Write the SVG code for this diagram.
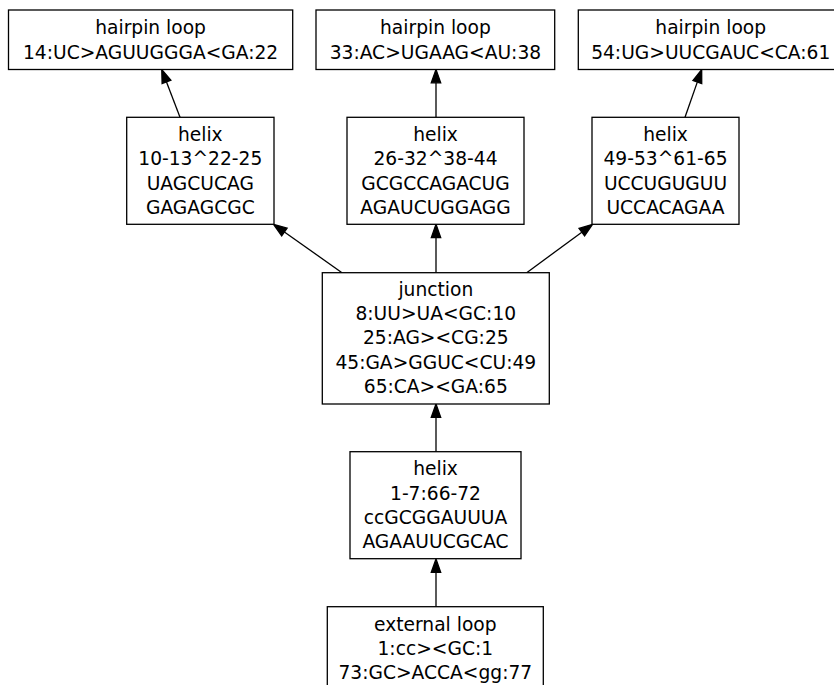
<svg xmlns="http://www.w3.org/2000/svg" width="834" height="685" viewBox="0 0 834 685">
<style>
rect.n{fill:#fff;stroke:#000;stroke-width:1.3}
text{font-family:"DejaVu Sans","Liberation Sans",sans-serif;font-size:18.67px;text-anchor:middle;fill:#000}
line.e{stroke:#000;stroke-width:1.3;marker-end:url(#ah)}
</style>
<defs>
<marker id="ah" markerUnits="userSpaceOnUse" markerWidth="14" markerHeight="10" refX="0" refY="0" orient="auto" overflow="visible">
<path d="M0,-4.7 L13.3,0 L0,4.7 Z" fill="#000" stroke="#000" stroke-width="1.3"/>
</marker>
</defs>
<rect width="834" height="685" fill="#fff"/>
<g id="edges">
<line class="e" x1="436" y1="606.7" x2="436" y2="572.3"/>
<line class="e" x1="436" y1="451.7" x2="436" y2="417.3"/>
<line class="e" x1="436" y1="272.7" x2="436" y2="237.6"/>
<line class="e" x1="342" y1="272.7" x2="284.4" y2="232"/>
<line class="e" x1="526.7" y1="272.7" x2="581.8" y2="232.2"/>
<line class="e" x1="180" y1="117.3" x2="166.5" y2="81.9"/>
<line class="e" x1="436" y1="117.3" x2="436" y2="82.8"/>
<line class="e" x1="685" y1="117.3" x2="697.3" y2="82.1"/>
</g>
<g id="hairpin1">
<rect class="n" x="8.5" y="10" width="284.2" height="59.5"/>
<text x="150.6" y="34.4">hairpin loop</text>
<text x="150.6" y="58.7">14:UC&gt;AGUUGGGA&lt;GA:22</text>
</g>
<g id="hairpin2">
<rect class="n" x="316" y="10" width="238.7" height="59.5"/>
<text x="435.4" y="34.4">hairpin loop</text>
<text x="435.4" y="58.7">33:AC&gt;UGAAG&lt;AU:38</text>
</g>
<g id="hairpin3">
<rect class="n" x="578.3" y="10" width="264.7" height="59.5"/>
<text x="710.7" y="34.4">hairpin loop</text>
<text x="710.7" y="58.7">54:UG&gt;UUCGAUC&lt;CA:61</text>
</g>
<g id="helix1">
<rect class="n" x="126.7" y="117.3" width="147.3" height="107"/>
<text x="200.3" y="141.1">helix</text>
<text x="200.3" y="165.4">10-13^22-25</text>
<text x="200.3" y="189.7">UAGCUCAG</text>
<text x="200.3" y="214">GAGAGCGC</text>
</g>
<g id="helix2">
<rect class="n" x="347" y="117.3" width="177" height="107"/>
<text x="435.5" y="141.1">helix</text>
<text x="435.5" y="165.4">26-32^38-44</text>
<text x="435.5" y="189.7">GCGCCAGACUG</text>
<text x="435.5" y="214">AGAUCUGGAGG</text>
</g>
<g id="helix3">
<rect class="n" x="592" y="117.3" width="147" height="107"/>
<text x="665.5" y="141.1">helix</text>
<text x="665.5" y="165.4">49-53^61-65</text>
<text x="665.5" y="189.7">UCCUGUGUU</text>
<text x="665.5" y="214">UCCACAGAA</text>
</g>
<g id="junction">
<rect class="n" x="322.3" y="272.7" width="227" height="131.3"/>
<text x="435.8" y="295.8">junction</text>
<text x="435.8" y="320.1">8:UU&gt;UA&lt;GC:10</text>
<text x="435.8" y="344.4">25:AG&gt;&lt;CG:25</text>
<text x="435.8" y="368.7">45:GA&gt;GGUC&lt;CU:49</text>
<text x="435.8" y="393">65:CA&gt;&lt;GA:65</text>
</g>
<g id="helix4">
<rect class="n" x="350" y="451.7" width="171" height="107"/>
<text x="435.5" y="475.2">helix</text>
<text x="435.5" y="499.5">1-7:66-72</text>
<text x="435.5" y="523.8">ccGCGGAUUUA</text>
<text x="435.5" y="548.1">AGAAUUCGCAC</text>
</g>
<g id="external">
<rect class="n" x="327.3" y="606.7" width="216" height="84"/>
<text x="435.3" y="630.7">external loop</text>
<text x="435.3" y="655">1:cc&gt;&lt;GC:1</text>
<text x="435.3" y="679.3">73:GC&gt;ACCA&lt;gg:77</text>
</g>
</svg>
